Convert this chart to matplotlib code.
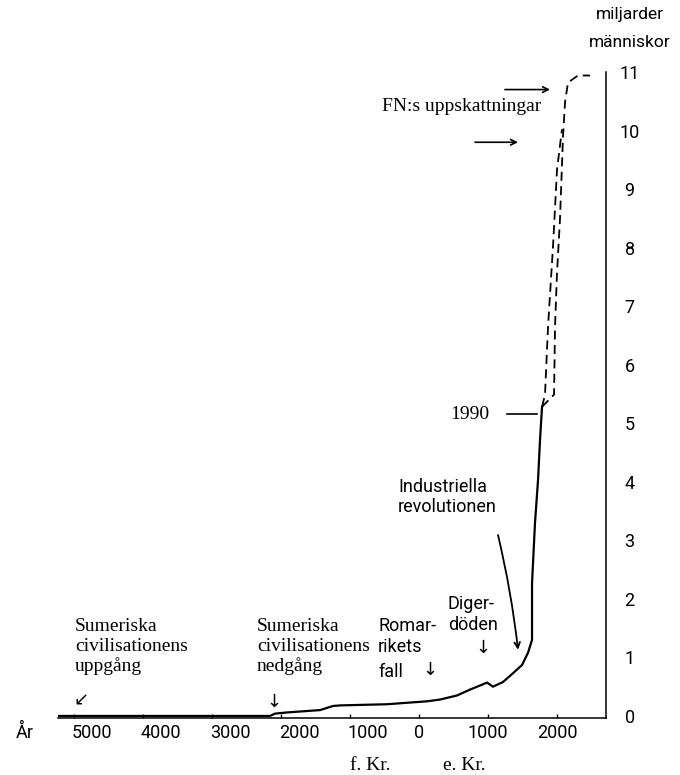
import matplotlib
matplotlib.use("Agg")
import matplotlib.pyplot as plt
import matplotlib.transforms as mtransforms

# ---------------- data ----------------
# x positions are years on the chart's own (drawn) scale, y in billions of people
years = [-5232, -2159, -2087, -1913, -1435, -1246, -1145, -464, 116, 304, 551, 739,
         884, 986, 1072, 1217, 1362, 1493, 1580, 1638, 1638, 1681, 1725, 1754, 1783]
population = [0.0, 0.0, 0.04, 0.06, 0.10, 0.17, 0.18, 0.20, 0.25, 0.28, 0.35, 0.45,
              0.52, 0.57, 0.50, 0.58, 0.73, 0.87, 1.08, 1.30, 2.27, 3.30, 4.03, 4.72, 5.28]

# UN projections (dashed)
proj_low_years = [1783, 1826, 1870, 1942, 2000, 2072]
proj_low_pop = [5.28, 5.49, 6.65, 8.02, 9.33, 10.02]
proj_high_years = [1783, 1957, 1971, 2000, 2043, 2087, 2116, 2159, 2304, 2478]
proj_high_pop = [5.28, 5.49, 6.65, 7.57, 8.48, 9.90, 10.48, 10.82, 10.94, 10.94]

xtick_values = [-5000, -4000, -3000, -2000, -1000, 0, 1000, 2000]
xtick_labels = ["5000", "4000", "3000", "2000", "1000", "0", "1000", "2000"]
ytick_values = list(range(0, 12))
ytick_labels = [str(v) for v in ytick_values]

SANS = ["Roboto", "DejaVu Sans"]
SERIF = ["Liberation Serif", "DejaVu Serif"]

fig = plt.figure(figsize=(6.8, 7.75), dpi=100)
ax = fig.add_axes([58/680, 57/775, (606-58)/680, (718-72)/775])

ax.plot(years, population, color="black", lw=1.6, solid_joinstyle="miter")
ax.plot(proj_low_years, proj_low_pop, color="black", lw=1.3, dashes=(5, 3))
ax.plot(proj_high_years, proj_high_pop, color="black", lw=1.3, dashes=(5, 3))

ax.set_xlim(-5232, 2710)
ax.set_ylim(-0.035, 11.0)

for s in ["top", "left"]:
    ax.spines[s].set_visible(False)
ax.spines["bottom"].set_linewidth(1.1)
ax.spines["right"].set_linewidth(1.1)

ax.set_xticks(xtick_values)
ax.set_xticklabels(xtick_labels, fontfamily=SANS, fontsize=13)
ax.tick_params(axis="x", direction="in", length=3, width=1, pad=4)
offset = mtransforms.ScaledTranslation(0.18, 0, fig.dpi_scale_trans)
for lab in ax.get_xticklabels()[:5]:
    lab.set_transform(lab.get_transform() + offset)

ax.yaxis.tick_right()
ax.set_yticks(ytick_values)
ax.set_yticklabels(ytick_labels, fontfamily=SANS, fontsize=13)
ax.tick_params(axis="y", length=0, pad=17)
for lab in ax.get_yticklabels():
    lab.set_horizontalalignment("center")

# axis texts
ax.text(-5710, -0.29, "År", fontfamily=SANS, fontsize=13, ha="center", va="center", clip_on=False)
ax.text(3058, 11.98, "miljarder", fontfamily=SANS, fontsize=12.5, ha="center", va="center", clip_on=False)
ax.text(3058, 11.50, "människor", fontfamily=SANS, fontsize=12.5, ha="center", va="center", clip_on=False)
ax.text(-710, -0.84, "f. Kr.", fontfamily=SERIF, fontsize=14, ha="center", va="center", clip_on=False)
ax.text(652, -0.84, "e. Kr.", fontfamily=SERIF, fontsize=14, ha="center", va="center", clip_on=False)

# annotations
ax.text(-4986, 1.18, "Sumeriska\ncivilisationens\nuppgång", fontfamily=SERIF, fontsize=14,
        ha="left", va="center", linespacing=1.2)
ax.text(-4899, 0.27, "↙", fontfamily=["DejaVu Sans"], fontsize=13, ha="center", va="center")
ax.text(-2348, 1.18, "Sumeriska\ncivilisationens\nnedgång", fontfamily=SERIF, fontsize=14,
        ha="left", va="center", linespacing=1.2)
ax.text(-2101, 0.24, "↓", fontfamily=["DejaVu Sans"], fontsize=13, ha="center", va="center")
ax.text(-594, 1.36, "Romar-\nrikets", fontfamily=SANS, fontsize=13,
        ha="left", va="center", linespacing=1.25)
ax.text(-594, 0.75, "fall", fontfamily=SANS, fontsize=13, ha="left", va="center")
ax.text(159, 0.79, "↓", fontfamily=["DejaVu Sans"], fontsize=13, ha="center", va="center")
ax.text(420, 1.73, "Diger-\ndöden", fontfamily=SANS, fontsize=13,
        ha="left", va="center", linespacing=1.25)
ax.text(928, 1.16, "↓", fontfamily=["DejaVu Sans"], fontsize=13, ha="center", va="center")
ax.text(-304, 3.74, "Industriella\nrevolutionen", fontfamily=SANS, fontsize=13,
        ha="left", va="center", linespacing=1.15)
ax.annotate("", xy=(1435, 1.13), xytext=(1145, 3.09),
            arrowprops=dict(arrowstyle="->", color="black", lw=1.3,
                            connectionstyle="arc3,rad=-0.03", shrinkA=0, shrinkB=0))

ax.text(739, 5.15, "1990", fontfamily=SERIF, fontsize=14, ha="center", va="center")
ax.plot([1275, 1710], [5.15, 5.15], color="black", lw=1.2)

ax.text(-536, 10.41, "FN:s uppskattningar", fontfamily=SERIF, fontsize=14, ha="left", va="center")
ax.annotate("", xy=(1899, 10.7), xytext=(1246, 10.7),
            arrowprops=dict(arrowstyle="->", color="black", lw=1.2, shrinkA=0, shrinkB=0))
ax.annotate("", xy=(1435, 9.8), xytext=(812, 9.8),
            arrowprops=dict(arrowstyle="->", color="black", lw=1.2, shrinkA=0, shrinkB=0))

fig.savefig("out.png", dpi=100)
